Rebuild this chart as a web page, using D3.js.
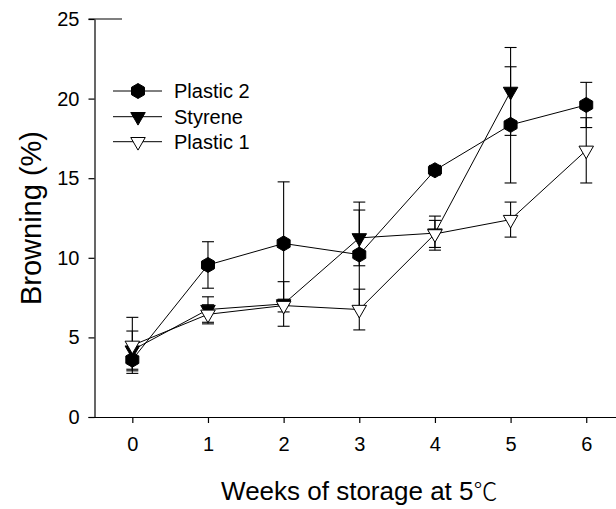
<!DOCTYPE html>
<html><head><meta charset="utf-8">
<script src="https://cdn.jsdelivr.net/npm/d3@7"></script>
<style>
html,body{margin:0;padding:0;background:#fff;}
svg{display:block;font-family:"Liberation Sans",Arial,sans-serif;}
</style></head><body>
<svg id="chart" width="616" height="509"></svg>
<script>
// Browning of packaged produce during cold storage (mean ± SD)
const weeks = [0, 1, 2, 3, 4, 5, 6];
const plastic2 = [3.6, 9.55, 10.9, 10.2, 15.5, 18.35, 19.6];
const plastic2Err = [0.7, 1.46, 3.87, 3.3, 0.3, 3.65, 1.42];
const styreneWeeks = [0, 1, 2, 3, 4, 5];
const styrene = [4.2, 6.75, 7.1, 11.25, 11.55, 20.45];
const styreneErr = [1.2, 0.8, 1.4, 1.75, 1.07, 2.76];
const plastic1 = [4.5, 6.45, 7.0, 6.75, 11.5, 12.4, 16.75];
const plastic1Err = [1.76, 0.6, 0.4, 1.28, 0.85, 1.1, 2.05];
const yTicks = [0, 5, 10, 15, 20, 25];
const xTicks = [0, 1, 2, 3, 4, 5, 6];
const legendLabels = ["Plastic 2", "Styrene", "Plastic 1"];

const svg = d3.select("#chart");

const x = d3.scaleLinear().domain([-0.5, 6.4]).range([94.5, 616.5]);
const y = d3.scaleLinear().domain([0, 25]).range([417, 19]);

// marker shapes
const hexR = 7.5;
const hexPath = d3.range(6).map(i => {
  const a = (-90 + 60 * i) * Math.PI / 180;
  return [hexR * Math.cos(a), hexR * Math.sin(a)];
});
const hexagon = "M" + hexPath.map(p => p.join(",")).join("L") + "Z";
const triW = 14.5, triH = 12.6;
const triangleDown = `M${-triW/2},${-triH/3}L${triW/2},${-triH/3}L0,${2*triH/3}Z`;

const series = [
  { name: legendLabels[0], xs: weeks, ys: plastic2, err: plastic2Err, shape: hexagon, fill: "#000" },
  { name: legendLabels[1], xs: styreneWeeks, ys: styrene, err: styreneErr, shape: triangleDown, fill: "#000" },
  { name: legendLabels[2], xs: weeks, ys: plastic1, err: plastic1Err, shape: triangleDown, fill: "#fff" }
];

// axes
const yAxis = d3.axisLeft(y).tickValues(yTicks).tickFormat(d3.format("d"))
  .tickSize(6).tickSizeOuter(0).tickPadding(9);
const gy = svg.append("g").attr("transform", `translate(${94.5},0)`).call(yAxis);
const xAxis = d3.axisBottom(x).tickValues(xTicks).tickFormat(d3.format("d"))
  .tickSize(6).tickSizeOuter(0).tickPadding(14);
const gx = svg.append("g").attr("transform", `translate(0,${417})`).call(xAxis);
[gx, gy].forEach(g => {
  g.select(".domain").attr("stroke", "#000").attr("stroke-width", 1.2);
  g.selectAll(".tick line").attr("stroke", "#000").attr("stroke-width", 1.2);
  g.selectAll(".tick text").attr("fill", "#000")
    .style("font-family", '"Liberation Sans", Arial, sans-serif').style("font-size", "20px");
});
// x axis line starts at the y axis' zero tick
gx.select(".domain").attr("d", `M${94.5 - 6},0.5H${616}`);
// top of y axis
svg.append("line").attr("x1", 94.5 - 6).attr("x2", 122).attr("y1", y(25)).attr("y2", y(25))
  .attr("stroke", "#000").attr("stroke-width", 1.2);

// axis titles
svg.append("text").attr("transform", `translate(41,${y(12.5)}) rotate(-90)`)
  .attr("text-anchor", "middle").style("font-size", "29px").attr("fill", "#000")
  .text("Browning (%)");
const xTitle = svg.append("text").attr("x", x(3)).attr("y", 500)
  .attr("text-anchor", "middle").style("font-size", "26px").attr("fill", "#000");
xTitle.append("tspan").text("Weeks of storage at 5");
xTitle.append("tspan").style("font-family", '"Noto Sans CJK KR", sans-serif')
  .style("font-size", "24px").attr("font-weight", 300).text("℃");

const plot = svg.append("g");
const line = d3.line();

// error bars and connecting lines
series.forEach(s => {
  const g = plot.append("g");
  s.xs.forEach((wk, i) => {
    const cx = x(wk), top = y(s.ys[i] + s.err[i]), bot = y(s.ys[i] - s.err[i]);
    g.append("line").attr("x1", cx).attr("x2", cx).attr("y1", top).attr("y2", bot)
      .attr("stroke", "#000").attr("stroke-width", 1.1);
    [top, bot].forEach(yy => g.append("line").attr("x1", cx - 6).attr("x2", cx + 6)
      .attr("y1", yy).attr("y2", yy).attr("stroke", "#000").attr("stroke-width", 1.1));
  });
  g.append("path").attr("d", line(s.xs.map((wk, i) => [x(wk), y(s.ys[i])])))
    .attr("fill", "none").attr("stroke", "#000").attr("stroke-width", 1);
});

// markers
series.forEach(s => {
  plot.append("g").selectAll("path").data(s.xs).join("path")
    .attr("transform", (wk, i) => `translate(${x(wk)},${y(s.ys[i])})`)
    .attr("d", s.shape).attr("fill", s.fill).attr("stroke", "#000").attr("stroke-width", 1);
});

// legend
const legend = svg.append("g");
const rowY = [91, 116.7, 141.7];
series.forEach((s, i) => {
  const ly = rowY[i];
  legend.append("line").attr("x1", 113).attr("x2", 162).attr("y1", ly).attr("y2", ly)
    .attr("stroke", "#000").attr("stroke-width", 1);
  legend.append("path").attr("transform", `translate(138,${ly})`).attr("d", s.shape)
    .attr("fill", s.fill).attr("stroke", "#000").attr("stroke-width", 1);
  legend.append("text").attr("x", 174).attr("y", ly + 7.2).style("font-size", "20px")
    .attr("fill", "#000").text(s.name);
});
</script>
</body></html>
